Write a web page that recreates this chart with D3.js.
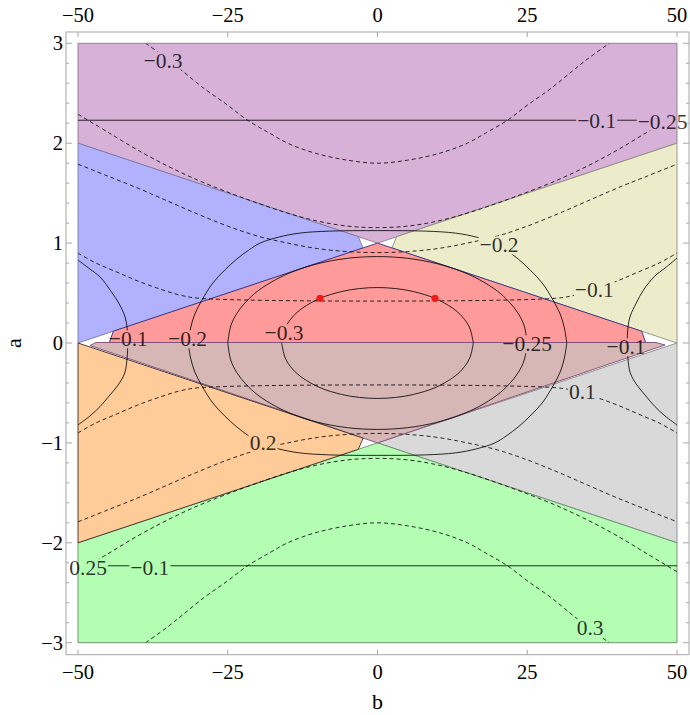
<!DOCTYPE html>
<html><head><meta charset="utf-8">
<script src="https://cdn.jsdelivr.net/npm/d3@7"></script>
<style>
body{margin:0;background:#fff}
text{font-family:"Liberation Serif","Times New Roman",serif}
</style>
</head><body>
<svg id="chart" width="690" height="715"></svg>
<script>
// ---------- axis ticks ----------
const bTicks = [-50, -25, 0, 25, 50];
const bTickLabels = ["\u221250", "\u221225", "0", "25", "50"];
const aTicks = [3, 2, 1, 0, -1, -2, -3];
const aTickLabels = ["3", "2", "1", "0", "\u22121", "\u22122", "\u22123"];
const aMinorTicks = [-2.8,-2.6,-2.4,-2.2,-1.8,-1.6,-1.4,-1.2,-0.8,-0.6,-0.4,-0.2,0.2,0.4,0.6,0.8,1.2,1.4,1.6,1.8,2.2,2.4,2.6,2.8];

// ---------- regions (b, a) ----------
const purpleRegion = [[-50,3],[50,3],[50,2],[0,1],[-50,2]];
const blueRegion   = [[-50,2],[-3.2,1.064],[-2.4,0.952],[-50,0]];
const yellowRegion = [[50,2],[3.2,1.064],[2.4,0.952],[50,0]];
const redRegion    = [[-44.8,0],[-44.1,0.118],[0,1],[44.1,0.118],[44.8,0]];
const brownRegion  = [[-48,-0.025],[-47,0.005],[46.5,0.005],[48,-0.02],[0,-1]];
const orangeRegion = [[-50,0],[-2.4,-0.952],[-3.2,-1.064],[-50,-2]];
const grayRegion   = [[50,0],[0,-1],[50,-2]];
const greenRegion  = [[-50,-3],[50,-3],[50,-2],[0,-1],[-50,-2]];

// ---------- solid contours ----------
const s1Upper = [[-16,0],[-15.4,0.15],[-14.2,0.26],[-12.5,0.35],[-9.6,0.447],[-6,0.515],[-3,0.545],[0,0.555],[3,0.545],[6,0.515],[9.6,0.447],[12.5,0.35],[14.2,0.26],[15.4,0.15],[16,0]];
const s1Lower = [[-16,0],[-15.4,-0.15],[-14.2,-0.26],[-12.5,-0.35],[-9.6,-0.447],[-6,-0.515],[-3,-0.545],[0,-0.555],[3,-0.545],[6,-0.515],[9.6,-0.447],[12.5,-0.35],[14.2,-0.26],[15.4,-0.15],[16,0]];
const s2Upper = [[-25,0],[-24.5,0.17],[-23.5,0.295],[-22,0.41],[-20,0.52],[-17,0.634],[-14,0.717],[-10,0.793],[-5,0.848],[0,0.865],[5,0.848],[10,0.793],[14,0.717],[17,0.634],[20,0.52],[22,0.41],[23.5,0.295],[24.5,0.17],[25,0]];
const s2Lower = [[-25,0],[-24.5,-0.17],[-23.5,-0.295],[-22,-0.41],[-20,-0.52],[-17,-0.634],[-14,-0.717],[-10,-0.793],[-5,-0.848],[0,-0.865],[5,-0.848],[10,-0.793],[14,-0.717],[17,-0.634],[20,-0.52],[22,-0.41],[23.5,-0.295],[24.5,-0.17],[25,0]];
const s3Upper = [[-31.6,0],[-31.2,0.15],[-30.5,0.29],[-29.3,0.43],[-27.5,0.6],[-25.5,0.73],[-23.5,0.84],[-21.5,0.93],[-19.6,1.0],[-16.5,1.06],[-13,1.1],[-8,1.12],[0,1.125],[8,1.12],[13,1.1],[16.5,1.06],[19.6,1.0],[21.5,0.93],[23.5,0.84],[25.5,0.73],[27.5,0.6],[29.3,0.43],[30.5,0.29],[31.2,0.15],[31.6,0]];
const s3Lower = [[-31.6,0],[-31.2,-0.15],[-30.5,-0.29],[-29.3,-0.43],[-27.5,-0.6],[-25.5,-0.73],[-23.5,-0.84],[-21.5,-0.93],[-19.6,-1.0],[-16.5,-1.06],[-13,-1.1],[-8,-1.12],[0,-1.125],[8,-1.12],[13,-1.1],[16.5,-1.06],[19.6,-1.0],[21.5,-0.93],[23.5,-0.84],[25.5,-0.73],[27.5,-0.6],[29.3,-0.43],[30.5,-0.29],[31.2,-0.15],[31.6,0]];
const s4Left  = [[-50,0.83],[-48,0.74],[-46.3,0.66],[-44.4,0.51],[-43.2,0.4],[-42.2,0.27],[-41.8,0.15],[-41.7,0],[-41.8,-0.15],[-42.2,-0.3],[-43.3,-0.42],[-44.8,-0.53],[-46.3,-0.635],[-48,-0.73],[-50,-0.82]];
const s4Right = [[50,0.85],[48,0.75],[46.3,0.67],[44.4,0.53],[43.2,0.4],[42.2,0.27],[41.8,0.15],[41.7,0],[41.8,-0.15],[42.2,-0.3],[43.3,-0.42],[44.8,-0.53],[46.3,-0.635],[48,-0.73],[50,-0.82]];
const s5Upper = [[-50,2.23],[50,2.23]];
const s5Lower = [[-50,-2.23],[50,-2.23]];

// ---------- dashed contours ----------
const d1Upper = [[-38.7,3.0],[-35,2.84],[-32.5,2.72],[-29,2.55],[-25,2.38],[-21.7,2.23],[-18,2.1],[-15,2.0],[-10.4,1.9],[-5,1.83],[0,1.8],[5,1.83],[10.4,1.9],[15,2.0],[18,2.1],[21.7,2.23],[25,2.38],[29,2.55],[32.5,2.72],[35,2.84],[38.7,3.0]];
const d1Lower = [[-38.7,-3.0],[-35,-2.84],[-32.5,-2.72],[-29,-2.55],[-25,-2.38],[-21.7,-2.23],[-18,-2.1],[-15,-2.0],[-10.4,-1.9],[-5,-1.83],[0,-1.8],[5,-1.83],[10.4,-1.9],[15,-2.0],[18,-2.1],[21.7,-2.23],[25,-2.38],[29,-2.55],[32.5,-2.72],[35,-2.84],[38.7,-3.0]];
const d2Upper = [[-50,2.29],[-45,2.11],[-40,1.93],[-35,1.77],[-30,1.63],[-25,1.51],[-20,1.40],[-15,1.3],[-10,1.22],[-5,1.17],[0,1.155],[5,1.17],[10,1.22],[15,1.3],[20,1.40],[25,1.51],[30,1.63],[35,1.77],[40,1.93],[45,2.11],[50,2.29]];
const d2Lower = [[-50,-2.29],[-45,-2.11],[-40,-1.93],[-35,-1.77],[-30,-1.63],[-25,-1.51],[-20,-1.40],[-15,-1.3],[-10,-1.22],[-5,-1.17],[0,-1.155],[5,-1.17],[10,-1.22],[15,-1.3],[20,-1.40],[25,-1.51],[30,-1.63],[35,-1.77],[40,-1.93],[45,-2.11],[50,-2.29]];
const d3Upper = [[-50,1.79],[-45,1.67],[-40,1.55],[-35,1.42],[-30,1.29],[-25,1.17],[-20,1.07],[-15,1.0],[-10,0.945],[-5,0.915],[0,0.905],[5,0.915],[10,0.945],[15,1.0],[20,1.07],[25,1.17],[30,1.29],[35,1.42],[40,1.55],[45,1.67],[50,1.79]];
const d3Lower = [[-50,-1.79],[-45,-1.67],[-40,-1.55],[-35,-1.42],[-30,-1.29],[-25,-1.17],[-20,-1.07],[-15,-1.0],[-10,-0.945],[-5,-0.915],[0,-0.905],[5,-0.915],[10,-0.945],[15,-1.0],[20,-1.07],[25,-1.17],[30,-1.29],[35,-1.42],[40,-1.55],[45,-1.67],[50,-1.79]];
const d4Upper = [[-50,0.9],[-47,0.8],[-43.5,0.71],[-40,0.62],[-36.3,0.54],[-33,0.48],[-29.6,0.447],[29.6,0.447],[33,0.48],[36.3,0.54],[40,0.62],[43.5,0.71],[47,0.8],[50,0.9]];
const d4Lower = [[-50,-0.9],[-47,-0.8],[-43.5,-0.71],[-40,-0.62],[-36.3,-0.54],[-33,-0.48],[-29.6,-0.447],[29.6,-0.447],[33,-0.48],[36.3,-0.54],[40,-0.62],[43.5,-0.71],[47,-0.8],[50,-0.9]];

// ---------- contour labels ----------
const labelTexts = ["\u22120.3","\u22120.25","\u22120.2","\u22120.1","\u22120.1","\u22120.1","\u22120.2","\u22120.3","\u22120.25","\u22120.1","0.1","0.2","0.25","\u22120.1","0.3"];
const labelB     = [-35.8, 47.6, 20.3, 36.2, 36.6, -41.6, -31.7, -15.6, 25.0, 41.5, 34.2, -19.1, -48.3, -38.0, 35.5];
const labelA     = [2.83, 2.22, 0.98, 0.53, 2.23, 0.04, 0.04, 0.10, -0.01, -0.04, -0.49, -0.995, -2.25, -2.25, -2.85];

// ---------- critical points ----------
const dotB = [-9.6, 9.6];
const dotA = [0.447, 0.447];

// ================= drawing =================
const svg = d3.select("#chart");
const x = d3.scaleLinear().domain([-50, 50]).range([78, 677]);
const y = d3.scaleLinear().domain([-3, 3]).range([642.7, 43.3]);
const pad = 12;
const fx0 = x.range()[0] - pad, fx1 = x.range()[1] + pad;
const fy0 = y.range()[1] - pad + 0.7, fy1 = y.range()[0] + pad;

const defs = svg.append("defs");
defs.append("clipPath").attr("id", "frameClip").append("rect")
  .attr("x", fx0).attr("y", fy0).attr("width", fx1 - fx0).attr("height", fy1 - fy0);
defs.append("clipPath").attr("id", "dataClip").append("rect")
  .attr("x", x(-50)).attr("y", y(3)).attr("width", x(50) - x(-50)).attr("height", y(-3) - y(3));

const poly = d3.line().x(d => x(d[0])).y(d => y(d[1]));

const regions = [
  {d: purpleRegion, fill: "#d8b1d8", stroke: "#8a7a8a"},
  {d: blueRegion,   fill: "#b1b1fd", stroke: "#7a7aa6"},
  {d: yellowRegion, fill: "#ececcb", stroke: "#8f8f7a"},
  {d: grayRegion,   fill: "#d9d9d9", stroke: "#8a8a8a"},
  {d: greenRegion,  fill: "#b3feb3", stroke: "#6a8a6a"},
  {d: redRegion,    fill: "#ff9a9a", stroke: "#2e2e8a"},
  {d: brownRegion,  fill: "#d7b6b6", stroke: "#7e4a78"},
  {d: orangeRegion, fill: "#fecb99", stroke: "#3a3028"}
];
const gReg = svg.append("g").attr("clip-path", "url(#frameClip)");
regions.forEach(r => {
  gReg.append("path").attr("d", poly(r.d) + "Z")
    .attr("fill", r.fill).attr("stroke", r.stroke).attr("stroke-width", 0.9)
    .attr("stroke-linejoin", "round");
});

// mask for label gaps
const mask = defs.append("mask").attr("id", "labelMask")
  .attr("maskUnits", "userSpaceOnUse").attr("x", 0).attr("y", 0).attr("width", 690).attr("height", 715);
mask.append("rect").attr("x", 0).attr("y", 0).attr("width", 690).attr("height", 715).attr("fill", "#fff");

const gLines = svg.append("g").attr("clip-path", "url(#dataClip)");
const gLinesM = gLines.append("g").attr("mask", "url(#labelMask)");
const lineCol = "rgba(0,0,0,0.82)";
const solid = [s1Upper, s1Lower, s2Upper, s2Lower, s3Upper, s3Lower, s4Left, s4Right, s5Upper, s5Lower];
const dashed = [d1Upper, d1Lower, d2Upper, d2Lower, d3Upper, d3Lower, d4Upper, d4Lower];
const smooth = d3.line().x(d => x(d[0])).y(d => y(d[1])).curve(d3.curveCatmullRom.alpha(0.5));
solid.forEach(c => gLinesM.append("path").attr("d", smooth(c)).attr("fill", "none")
  .attr("stroke", lineCol).attr("stroke-width", 1));
dashed.forEach(c => gLinesM.append("path").attr("d", smooth(c)).attr("fill", "none")
  .attr("stroke", lineCol).attr("stroke-width", 1).attr("stroke-dasharray", "4,3"));

// contour labels
const gLab = svg.append("g");
labelTexts.forEach((t, i) => {
  const tx = gLab.append("text").attr("x", x(labelB[i])).attr("y", y(labelA[i]))
    .attr("dy", "0.34em").attr("text-anchor", "middle")
    .attr("font-size", 21.5).attr("fill", "rgba(0,0,0,0.8)").text(t);
  const bb = tx.node().getBBox();
  mask.append("rect").attr("x", bb.x - 1).attr("y", bb.y + 3).attr("width", bb.width + 2)
    .attr("height", bb.height - 6).attr("fill", "#000");
});

// red dots
dotB.forEach((b, i) => {
  svg.append("circle").attr("cx", x(b)).attr("cy", y(dotA[i])).attr("r", 3.6).attr("fill", "#f01c1c");
});

// frame and ticks
const frameCol = "#a6a6a6";
svg.append("rect").attr("x", fx0).attr("y", fy0).attr("width", fx1 - fx0).attr("height", fy1 - fy0)
  .attr("fill", "none").attr("stroke", frameCol).attr("stroke-width", 1);
const gT = svg.append("g").attr("stroke", frameCol).attr("stroke-width", 1);
bTicks.forEach(b => {
  gT.append("line").attr("x1", x(b)).attr("x2", x(b)).attr("y1", fy0).attr("y2", fy0 + 5);
  gT.append("line").attr("x1", x(b)).attr("x2", x(b)).attr("y1", fy1).attr("y2", fy1 - 5);
});
aTicks.forEach(a => {
  gT.append("line").attr("x1", fx0).attr("x2", fx0 + 6).attr("y1", y(a)).attr("y2", y(a));
  gT.append("line").attr("x1", fx1).attr("x2", fx1 - 6).attr("y1", y(a)).attr("y2", y(a));
});
aMinorTicks.forEach(a => {
  gT.append("line").attr("x1", fx0).attr("x2", fx0 + 3).attr("y1", y(a)).attr("y2", y(a));
  gT.append("line").attr("x1", fx1).attr("x2", fx1 - 3).attr("y1", y(a)).attr("y2", y(a));
});

const gTL = svg.append("g").attr("font-size", 20.5).attr("fill", "#000");
bTicks.forEach((b, i) => {
  gTL.append("text").attr("x", x(b)).attr("y", 22).attr("text-anchor", "middle").text(bTickLabels[i]);
  gTL.append("text").attr("x", x(b)).attr("y", 679).attr("text-anchor", "middle").text(bTickLabels[i]);
});
aTicks.forEach((a, i) => {
  gTL.append("text").attr("x", 63).attr("y", y(a)).attr("dy", "0.34em").attr("text-anchor", "end").text(aTickLabels[i]);
});
svg.append("text").attr("x", x(0)).attr("y", 709).attr("text-anchor", "middle").attr("font-size", 22).text("b");
svg.append("text").attr("transform", `translate(21,${y(0)}) rotate(-90)`).attr("text-anchor", "middle")
  .attr("font-size", 22).text("a");
</script>
</body></html>
